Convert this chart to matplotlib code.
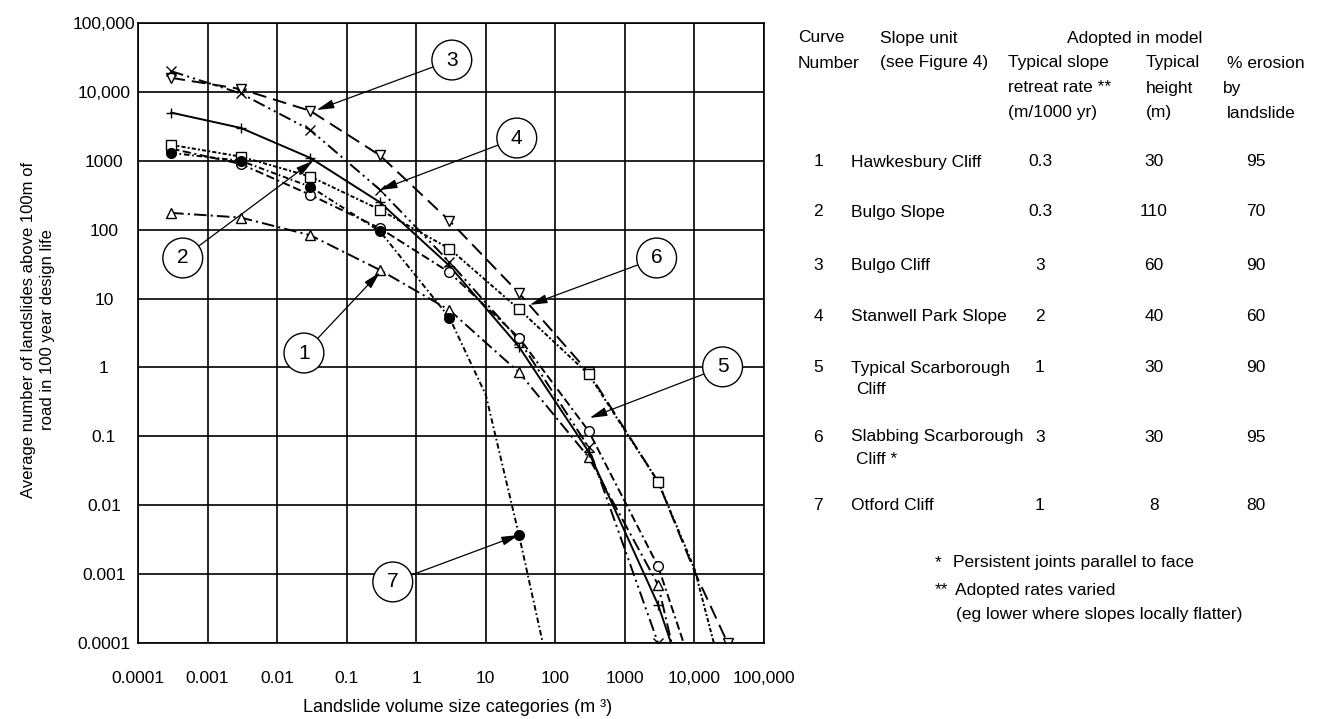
import matplotlib
matplotlib.use('Agg')
import matplotlib.pyplot as plt

plt.rcParams['font.family'] = ['Liberation Sans Narrow', 'Liberation Sans', 'DejaVu Sans']
plt.rcParams['lines.scale_dashes'] = False

# ---- data ----
c1_x = [3e-4, 3e-3, 3e-2, 0.3, 3, 30, 300, 3000, 4700]
c1_y = [175, 150, 83, 26, 6.8, 0.85, 0.05, 7e-4, 1e-4]

c2_x = [3e-4, 3e-3, 3e-2, 0.3, 3, 30, 300, 3000, 4600]
c2_y = [5000, 3000, 1100, 250, 30, 2.0, 0.06, 3.6e-4, 1e-4]

c3_x = [3e-4, 3e-3, 3e-2, 0.3, 3, 30, 300, 3000, 10000, 30000]
c3_y = [16000, 11000, 5300, 1200, 135, 12, 0.85, 0.022, 1.1e-3, 1e-4]

c4_x = [3e-4, 3e-3, 3e-2, 0.3, 3, 30, 300, 3000]
c4_y = [20000, 9500, 2800, 380, 34, 2.5, 0.07, 1e-4]

c5_x = [3e-4, 3e-3, 3e-2, 0.3, 3, 30, 300, 3000, 7000]
c5_y = [1500, 900, 320, 105, 24, 2.7, 0.12, 1.3e-3, 1e-4]

c6_x = [3e-4, 3e-3, 3e-2, 0.3, 3, 30, 300, 3000, 10000, 19000]
c6_y = [1700, 1150, 590, 195, 53, 7, 0.8, 0.022, 1.2e-3, 1e-4]

c7_x = [3e-4, 3e-3, 3e-2, 0.3, 3, 10, 30, 66]
c7_y = [1300, 1000, 420, 95, 5.3, 0.4, 0.0037, 1e-4]

tick_vals = [1e-4, 1e-3, 1e-2, 0.1, 1, 10, 100, 1000, 1e4, 1e5]
tick_labels = ['0.0001', '0.001', '0.01', '0.1', '1', '10', '100', '1000', '10,000', '100,000']

curve_no = ['1', '2', '3', '4', '5', '6', '7']
slope_unit = ['Hawkesbury Cliff', 'Bulgo Slope', 'Bulgo Cliff', 'Stanwell Park Slope',
              'Typical Scarborough\nCliff', 'Slabbing Scarborough\nCliff *', 'Otford Cliff']
retreat = ['0.3', '0.3', '3', '2', '1', '3', '1']
height = ['30', '110', '60', '40', '30', '30', '8']
erosion = ['95', '70', '90', '60', '90', '95', '80']

W, H = 1343, 719
FS = 12.5
fig = plt.figure(figsize=(W / 100, H / 100), dpi=100)
ax = fig.add_axes([138 / W, 1 - 643 / H, (764 - 138) / W, (643 - 23) / H])

k = dict(color='black', lw=1.4, ms=7, mec='black', mew=1.0)
ax.plot(c1_x, c1_y, ls=(0, (9, 3, 1.5, 3)), marker='^', mfc='white', markevery=list(range(8)), **k)
ax.plot(c2_x, c2_y, ls='-', marker='+', markevery=list(range(8)), **k)
ax.plot(c3_x, c3_y, ls=(0, (10, 5)), marker='v', mfc='white', markevery=[0, 1, 2, 3, 4, 5, 6, 7, 9], **k)
ax.plot(c4_x, c4_y, ls=(0, (9, 3, 1.5, 3, 1.5, 3)), marker='x', markevery=list(range(8)), **k)
ax.plot(c5_x, c5_y, ls=(0, (6, 2.5, 6, 2.5, 1.5, 2.5)), marker='o', mfc='white', markevery=list(range(8)), **k)
ax.plot(c6_x, c6_y, ls=(0, (3, 1.5, 1.5, 1.5)), marker='s', mfc='white', markevery=list(range(8)), **k)
ax.plot(c7_x, c7_y, ls=(0, (4, 2, 1.2, 2)), marker='o', mfc='black', markevery=[0, 1, 2, 3, 4, 6], **k)

ax.set_xscale('log')
ax.set_yscale('log')
ax.set_xlim(1e-4, 1e5)
ax.set_ylim(1e-4, 1e5)
ax.set_xticks(tick_vals)
ax.set_xticklabels(tick_labels)
ax.set_yticks(tick_vals)
ax.set_yticklabels(tick_labels, ha='center')
ax.minorticks_off()
ax.tick_params(axis='x', length=0, pad=20, labelsize=FS)
ax.tick_params(axis='y', length=0, pad=24.5, labelsize=FS)
ax.grid(True, color='black', lw=1.2)
for s in ax.spines.values():
    s.set_linewidth(1.2)

fig.text(38 / W, 1 - 330 / H, 'Average number of landslides above 100m of\nroad in 100 year design life',
         rotation=90, ha='center', va='center', multialignment='center', fontsize=12, linespacing=1.3)
fig.text(458 / W, 1 - 708 / H, 'Landslide volume size categories (m ³)', ha='center', va='center', fontsize=13)

# circled curve numbers with arrows
labels = [('1', (0.3, 24), (0.0243, 1.62)),
          ('2', (0.033, 1000), (0.00044, 38.8)),
          ('3', (0.037, 5460), (3.25, 29000)),
          ('4', (0.30, 377), (27.9, 2140)),
          ('5', (312, 0.185), (25400, 1.02)),
          ('6', (43, 8.1), (2860, 38.8)),
          ('7', (30, 0.0037), (0.46, 0.00077))]
for t, xy, xyt in labels:
    ax.annotate(t, xy=xy, xytext=xyt, ha='center', va='center', fontsize=15,
                bbox=dict(boxstyle='circle,pad=0.5', fc='white', ec='black', lw=1.0),
                arrowprops=dict(arrowstyle='-|>,head_length=0.7,head_width=0.18', color='black',
                                lw=0.9, shrinkA=0, shrinkB=0),
                zorder=5, annotation_clip=False)


def ft(px, py, s, ha='left', **kw):
    fig.text(px / W, 1 - py / H, s, ha=ha, va='center', fontsize=FS, **kw)


ft(798, 38, 'Curve')
ft(798, 63, 'Number')
ft(880, 38, 'Slope unit')
ft(880, 63, '(see Figure 4)')
ft(1067, 38, 'Adopted in model')
ft(1008, 63, 'Typical slope')
ft(1008, 88, 'retreat rate **')
ft(1008, 113, '(m/1000 yr)')
ft(1146, 63, 'Typical')
ft(1146, 88, 'height')
ft(1146, 113, '(m)')
ft(1227, 63, '% erosion')
ft(1223, 88, 'by')
ft(1227, 113, 'landslide')

row_y = [162, 212, 265, 316, 368, 437, 506]
for i, y in enumerate(row_y):
    ft(818, y, curve_no[i], ha='center')
    parts = slope_unit[i].split('\n')
    ft(851, y, parts[0])
    if len(parts) > 1:
        ft(856, y + 22, parts[1])
    ft(1040, y, retreat[i], ha='center')
    ft(1154, y, height[i], ha='center')
    ft(1256, y, erosion[i], ha='center')

ft(935, 563, '*')
ft(953, 563, 'Persistent joints parallel to face')
ft(935, 590, '**')
ft(955, 590, 'Adopted rates varied')
ft(956, 615, '(eg lower where slopes locally flatter)')

fig.savefig('out.png', dpi=100, facecolor='white')
